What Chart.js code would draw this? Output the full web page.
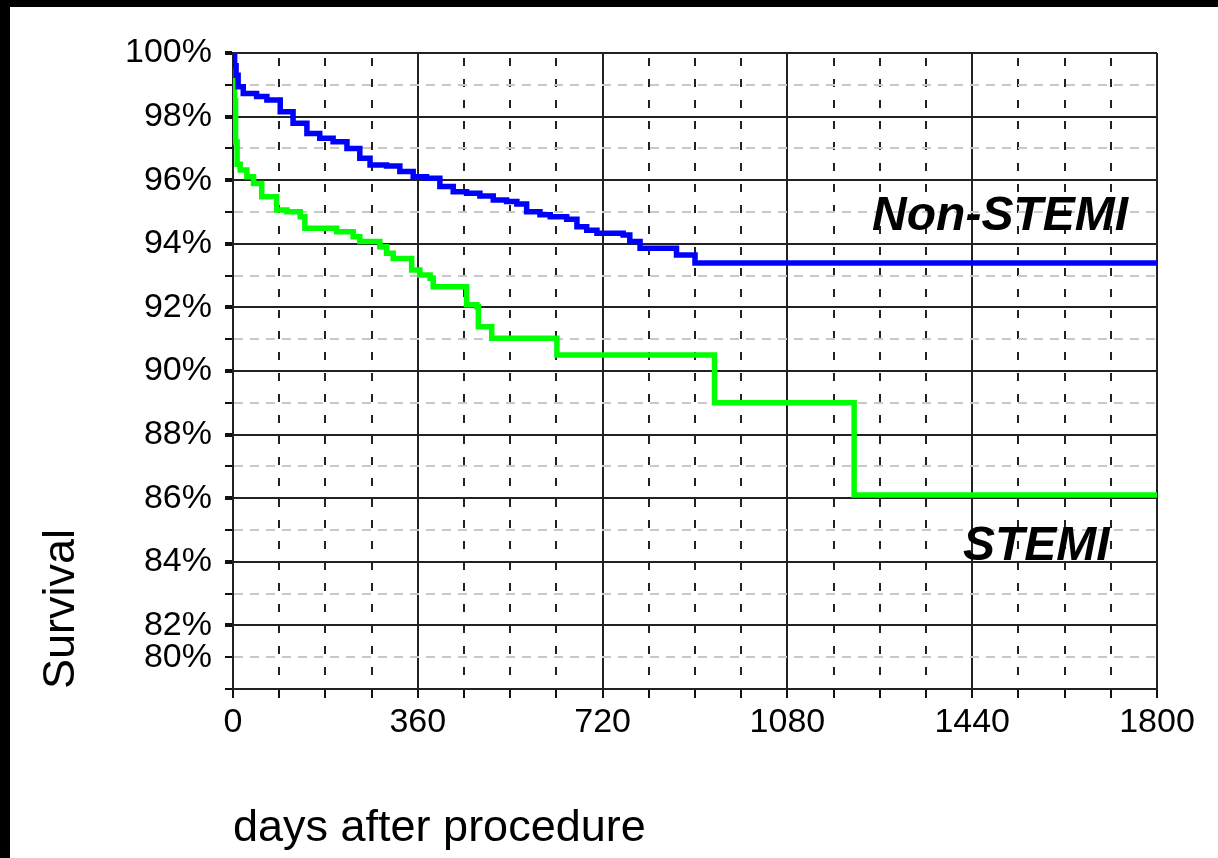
<!DOCTYPE html>
<html>
<head>
<meta charset="utf-8">
<script src="https://cdn.jsdelivr.net/npm/chart.js@4.4.1/dist/chart.umd.min.js"></script>
<style>
    body { margin: 0; background: #fff; }
    .wrap { position: relative; width: 1218px; height: 858px; }
    .edgeTop { position: absolute; left: 0; top: 0; width: 1218px; height: 7px; background: #000; }
    .edgeLeft { position: absolute; left: 0; top: 0; width: 10px; height: 858px; background: #000; }
</style>
</head>
<body>
<div class="wrap">
    <canvas id="survivalChart" width="1218" height="858"></canvas>
    <div class="edgeTop"></div>
    <div class="edgeLeft"></div>
</div>
<script>
// Kaplan-Meier steps (days, survival %)
const nonStemiDays = [0, 3, 6, 10, 20, 46, 66, 92, 117, 144, 169, 195, 222, 247, 267, 299, 325, 351, 377, 403, 429, 455, 481, 507, 533, 553, 572, 598, 618, 650, 670, 689, 709, 760, 773, 793, 864, 900, 1800];
const nonStemiSurvival = [100, 99.6, 99.3, 98.94, 98.73, 98.63, 98.52, 98.15, 97.79, 97.47, 97.32, 97.21, 97.0, 96.69, 96.48, 96.45, 96.27, 96.11, 96.06, 95.8, 95.64, 95.59, 95.5, 95.38, 95.33, 95.25, 95.01, 94.91, 94.85, 94.77, 94.54, 94.43, 94.33, 94.28, 94.07, 93.86, 93.65, 93.4, 93.4];

const stemiDays = [0, 3, 5, 8, 14, 27, 40, 56, 85, 105, 131, 140, 202, 234, 247, 286, 299, 312, 348, 364, 384, 390, 455, 475, 478, 504, 631, 938, 1210, 1800];
const stemiSurvival = [100, 98.5, 97.2, 96.5, 96.32, 96.11, 95.9, 95.48, 95.06, 95.01, 94.85, 94.49, 94.38, 94.22, 94.07, 93.91, 93.7, 93.54, 93.18, 93.02, 92.92, 92.65, 92.08, 92.02, 91.39, 91.03, 90.5, 89.0, 86.1, 86.1];

const seriesNames = ["Non-STEMI", "STEMI"];
const seriesColors = ["#0000ff", "#00ff00"];

const xLabelEvery = 360;
const yLabels = {82: "82%", 84: "84%", 86: "86%", 88: "88%", 90: "90%", 92: "92%", 94: "94%", 96: "96%", 98: "98%", 100: "100%", 81: "80%"};

// where the curve names sit, in data units
const nameAnchors = [[1245, 94.43], [1422, 84.06]];

function toPoints(days, values) {
    return days.map((d, i) => ({ x: d, y: values[i] }));
}

const curveNames = {
    id: "curveNames",
    afterDatasetsDraw(chart) {
        const ctx = chart.ctx;
        const xs = chart.scales.x;
        const ys = chart.scales.y;
        ctx.save();
        ctx.font = "italic bold 48px 'Liberation Sans', Arial, sans-serif";
        ctx.fillStyle = "#000";
        ctx.textAlign = "left";
        ctx.textBaseline = "alphabetic";
        seriesNames.forEach((name, i) => {
            ctx.fillText(name, xs.getPixelForValue(nameAnchors[i][0]), ys.getPixelForValue(nameAnchors[i][1]));
        });
        ctx.restore();
    }
};

const tickFont = { family: "'Liberation Sans', Arial, sans-serif", size: 34 };
const titleFont = { family: "'Liberation Sans', Arial, sans-serif", size: 45 };

new Chart(document.getElementById("survivalChart"), {
    type: "line",
    data: {
        datasets: [
            {
                label: seriesNames[0],
                data: toPoints(nonStemiDays, nonStemiSurvival),
                borderColor: seriesColors[0],
                borderWidth: 5.5,
                pointRadius: 0,
                stepped: true,
                fill: false
            },
            {
                label: seriesNames[1],
                data: toPoints(stemiDays, stemiSurvival),
                borderColor: seriesColors[1],
                borderWidth: 5.5,
                pointRadius: 0,
                stepped: true,
                fill: false
            }
        ]
    },
    options: {
        responsive: false,
        animation: false,
        layout: { padding: { top: 53, right: 61, bottom: 0, left: 0 } },
        plugins: {
            legend: { display: false },
            tooltip: { enabled: false }
        },
        scales: {
            x: {
                type: "linear",
                min: 0,
                max: 1800,
                afterFit: (scale) => { scale.height = 169; },
                ticks: {
                    stepSize: 90,
                    autoSkip: false,
                    maxRotation: 0,
                    padding: 4,
                    color: "#000",
                    font: tickFont,
                    callback: (v) => (v % xLabelEvery === 0 ? String(v) : "")
                },
                grid: {
                    color: "#222",
                    lineWidth: 2,
                    tickLength: 9,
                    tickColor: "#111",
                    tickWidth: 2
                },
                border: {
                    display: true,
                    color: "#222",
                    width: 2,
                    dash: (c) => (c.tick && c.tick.value % xLabelEvery !== 0 ? [8, 13] : []),
                    dashOffset: 16
                },
                title: {
                    display: true,
                    text: "days after procedure",
                    align: "start",
                    color: "#000",
                    font: titleFont,
                    padding: { top: 0, bottom: 2 }
                }
            },
            y: {
                min: 80,
                max: 100,
                afterFit: (scale) => { scale.width = 233; },
                ticks: {
                    stepSize: 1,
                    autoSkip: false,
                    padding: 13,
                    color: "#000",
                    font: tickFont,
                    callback: (v) => yLabels[v] || ""
                },
                grid: {
                    color: (c) => (c.tick && c.tick.value % 2 !== 0 ? "#c8c8c8" : "#222"),
                    lineWidth: 2,
                    tickLength: 8,
                    tickColor: "#111",
                    tickWidth: (c) => (c.tick && c.tick.value % 2 === 0 && c.tick.value > 80 ? 4 : 2)
                },
                border: {
                    display: true,
                    color: "#222",
                    width: 2,
                    dash: (c) => (c.tick && c.tick.value % 2 !== 0 ? [9, 7] : [])
                },
                title: {
                    display: true,
                    text: "Survival",
                    align: "start",
                    color: "#000",
                    font: titleFont,
                    padding: { top: 35, bottom: 0 }
                }
            }
        }
    },
    plugins: [curveNames]
});
</script>
</body>
</html>
